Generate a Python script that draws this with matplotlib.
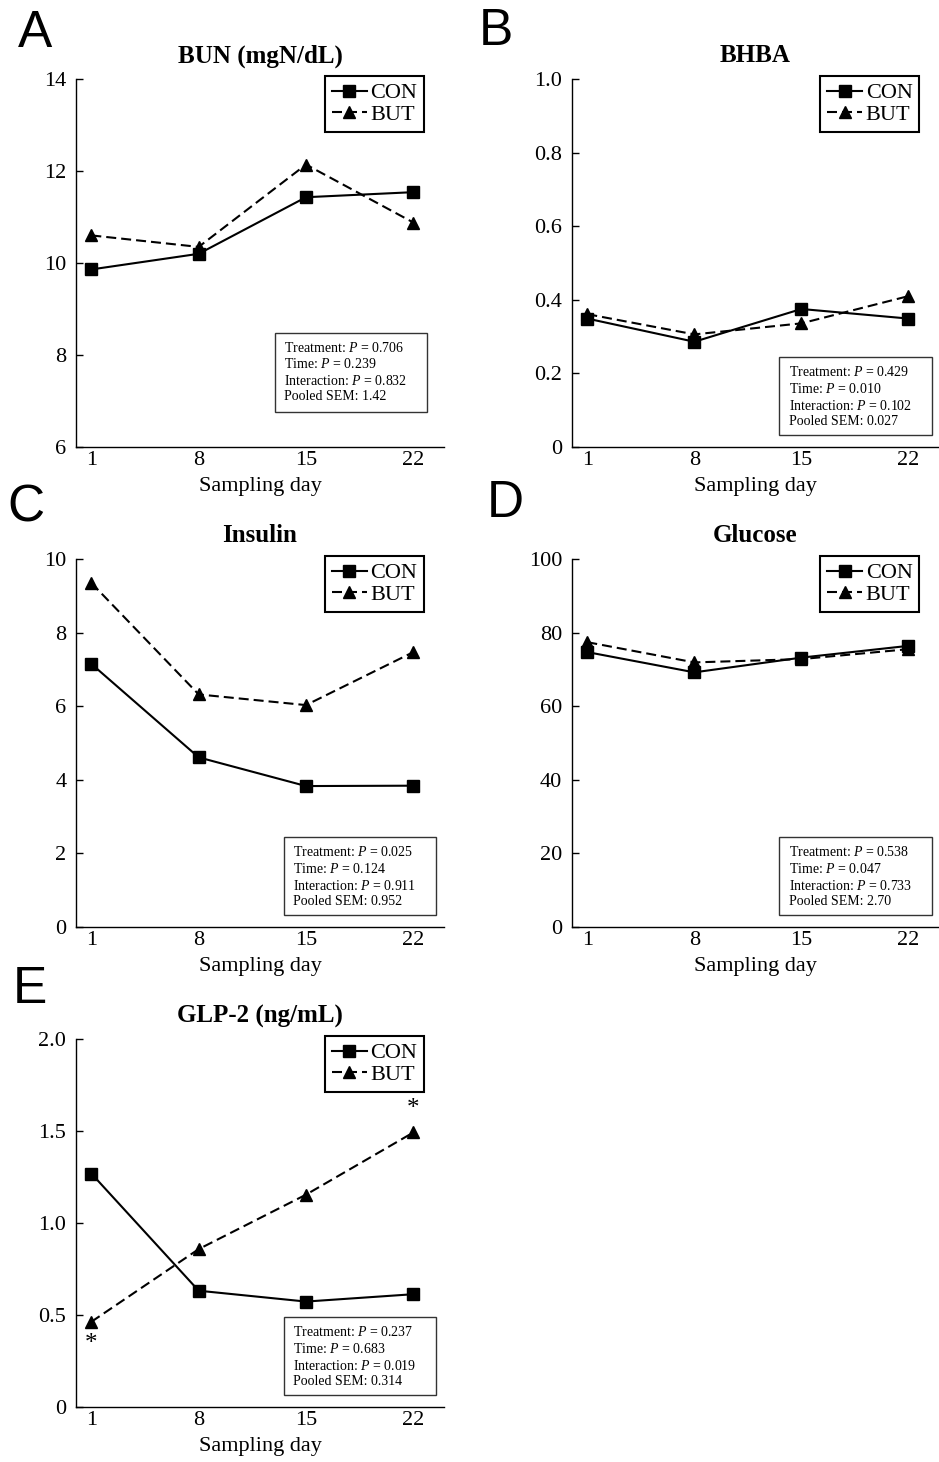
import matplotlib
matplotlib.use("Agg")
import matplotlib.pyplot as plt
from matplotlib.patches import Rectangle

SERIF = ['Liberation Serif', 'DejaVu Serif']
plt.rcParams['font.family'] = SERIF
plt.rcParams['mathtext.fontset'] = 'custom'
plt.rcParams['mathtext.rm'] = 'Liberation Serif'
plt.rcParams['mathtext.it'] = 'Liberation Serif:italic'

days = [1, 8, 15, 22]

# values
bun_con = [9.86, 10.20, 11.43, 11.54]
bun_but = [10.60, 10.35, 12.14, 10.88]
bhba_con = [0.349, 0.286, 0.375, 0.349]
bhba_but = [0.361, 0.306, 0.336, 0.410]
ins_con = [7.15, 4.61, 3.83, 3.84]
ins_but = [9.35, 6.32, 6.03, 7.47]
glu_con = [74.7, 69.2, 73.2, 76.4]
glu_but = [77.4, 71.9, 72.8, 75.5]
glp_con = [1.269, 0.632, 0.573, 0.613]
glp_but = [0.463, 0.858, 1.154, 1.492]

titles = ["BUN (mgN/dL)", "BHBA", "Insulin", "Glucose", "GLP-2 (ng/mL)"]
letters = ["A", "B", "C", "D", "E"]
yticks = [[6, 8, 10, 12, 14], [0, 0.2, 0.4, 0.6, 0.8, 1.0], [0, 2, 4, 6, 8, 10],
          [0, 20, 40, 60, 80, 100], [0, 0.5, 1.0, 1.5, 2.0]]
ytick_labels = [["6", "8", "10", "12", "14"], ["0", "0.2", "0.4", "0.6", "0.8", "1.0"],
                ["0", "2", "4", "6", "8", "10"], ["0", "20", "40", "60", "80", "100"],
                ["0", "0.5", "1.0", "1.5", "2.0"]]
stats = [("0.706", "0.239", "0.832", "1.42"),
         ("0.429", "0.010", "0.102", "0.027"),
         ("0.025", "0.124", "0.911", "0.952"),
         ("0.538", "0.047", "0.733", "2.70"),
         ("0.237", "0.683", "0.019", "0.314")]
con_all = [bun_con, bhba_con, ins_con, glu_con, glp_con]
but_all = [bun_but, bhba_but, ins_but, glu_but, glp_but]

W, H = 939, 1462
fig = plt.figure(figsize=(W / 100, H / 100), dpi=100)

# axes boxes in pixels: left, top, right, bottom
boxes = [(76, 79, 444, 447), (572, 79, 939, 447),
         (76, 559, 444, 927), (572, 559, 939, 927),
         (76, 1039, 444, 1407)]
stat_boxes = [(0.541, 0.096, 0.955, 0.311), (0.565, 0.033, 0.98, 0.244),
              (0.564, 0.033, 0.977, 0.244), (0.565, 0.033, 0.98, 0.244),
              (0.564, 0.033, 0.977, 0.244)]
letter_pos = [(18, 47), (479, 45), (7, 521), (487, 517), (13, 1003)]

for i in range(5):
    l, t, r, b = boxes[i]
    ax = fig.add_axes([l / W, 1 - b / H, (r - l) / W, (b - t) / H])
    ax.plot(days, con_all[i], color='black', lw=1.5, marker='s', ms=8,
            label='CON', zorder=3)
    ax.plot(days, but_all[i], color='black', lw=1.5, ls=(0, (4.8, 2.4)),
            marker='^', ms=8.5, label='BUT', zorder=3)
    ax.set_xlim(0, 24)
    ax.set_ylim(yticks[i][0], yticks[i][-1])
    ax.set_xticks(days)
    ax.set_xticklabels([str(d) for d in days], fontfamily=SERIF)
    ax.set_yticks(yticks[i])
    ax.set_yticklabels(ytick_labels[i], fontfamily=SERIF)
    ax.tick_params(axis='x', length=0, pad=3, labelsize=16)
    ax.tick_params(axis='y', direction='in', length=5, width=1, pad=7, labelsize=16)
    for s in ['top', 'right']:
        ax.spines[s].set_visible(False)
    for s in ['left', 'bottom']:
        ax.spines[s].set_linewidth(1.0)
    ax.set_title(titles[i], fontsize=18, fontweight='bold', pad=12)
    ax.set_xlabel("Sampling day", fontsize=16, labelpad=5)

    leg = ax.legend(loc='upper right', bbox_to_anchor=(0.946, 1.008), fontsize=16,
                    frameon=True, fancybox=False, edgecolor='black', framealpha=1,
                    handlelength=1.6, handletextpad=0.15, labelspacing=0.05,
                    borderpad=0.3, borderaxespad=0)
    leg.get_frame().set_linewidth(1.5)

    x0, y0, x1, y1 = stat_boxes[i]
    ax.add_patch(Rectangle((x0, y0), x1 - x0, y1 - y0, transform=ax.transAxes,
                           fill=False, edgecolor='#333333', lw=1, zorder=4))
    tr, tm, it, sem = stats[i]
    txt = ("Treatment: $P$ = " + tr + "\nTime: $P$ = " + tm +
           "\nInteraction: $P$ = " + it + "\nPooled SEM: " + sem)
    ax.text(x0 + 0.025, y1 - 0.022, txt, transform=ax.transAxes, fontsize=10,
            va='top', ha='left', linespacing=1.24, zorder=5)

    lx, ly = letter_pos[i]
    fig.text(lx / W, 1 - ly / H, letters[i], fontsize=37, family='Liberation Sans',
             ha='left', va='baseline')

    if i == 4:
        ax.annotate("*", (days[0], glp_but[0]), xytext=(0, -16), textcoords='offset points',
                    ha='center', va='center', fontsize=18)
        ax.annotate("*", (days[3], glp_but[3]), xytext=(0, 17), textcoords='offset points',
                    ha='center', va='center', fontsize=18)

fig.savefig("out.png", dpi=100)
